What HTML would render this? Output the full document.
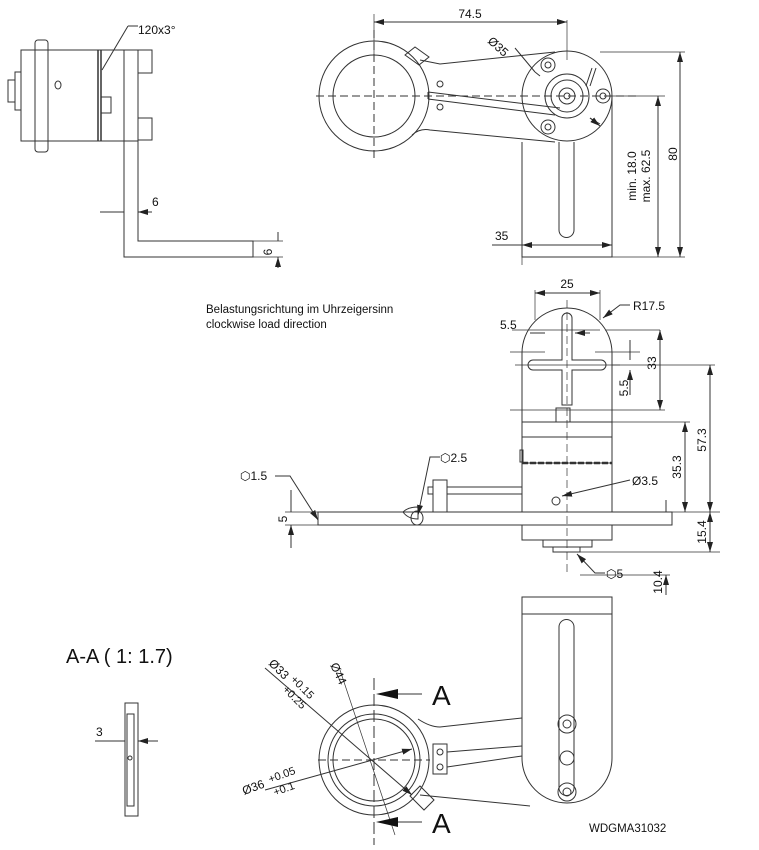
<!DOCTYPE html>
<html><head><meta charset="utf-8"><style>
html,body{margin:0;padding:0;background:#fff}
svg{display:block}
text{font-family:"Liberation Sans",sans-serif;fill:#111}
</style></head><body>
<svg width="759" height="850" viewBox="0 0 759 850" xmlns="http://www.w3.org/2000/svg">
<defs>
<marker id="a" viewBox="0 0 10 6" refX="10" refY="3" markerWidth="10" markerHeight="6" orient="auto-start-reverse" markerUnits="userSpaceOnUse"><path d="M0,0L10,3L0,6z" fill="#222"/></marker>
</defs>
<g fill="none" stroke="#333" stroke-width="1">
<!-- top-left side view -->
<rect x="21" y="50" width="103" height="91"/>
<rect x="35" y="40" width="13" height="112" rx="3"/>
<rect x="15" y="72" width="6" height="38"/>
<rect x="8" y="80" width="7" height="22"/>
<path d="M98,50V141M101,50V141" stroke-width="1.5"/>
<rect x="101" y="97" width="10" height="16"/>
<ellipse cx="58" cy="85" rx="3" ry="4"/>
<rect x="124" y="50" width="14" height="91"/>
<rect x="138" y="50" width="14" height="23"/>
<rect x="138" y="118" width="14" height="22"/>
<path d="M124,141V257H253V241H138V141"/>
<path d="M253,241V257"/>
<path d="M128,26L102,70" /><path d="M128,26H138"/>
<path d="M100,212H124M152,212H138" marker-end="url(#a)"/>
<path d="M278,232V241M278,268V257" marker-end="url(#a)"/>
<path d="M253,241H283M253,257H283" stroke-width=".7"/>

<!-- top-right view -->
<circle cx="374" cy="96" r="55"/>
<circle cx="374" cy="96" r="41"/>
<path d="M316,96H640" stroke-dasharray="8,4"/>
<path d="M374,30V160" stroke-dasharray="8,4"/>
<path d="M420,60L440,64L555,52M412,135Q420,128 430,130L555,142"/>
<path d="M405,55l10,-8l14,10l-10,8z"/>
<circle cx="567" cy="96" r="45"/>
<circle cx="567" cy="96" r="22"/>
<circle cx="567" cy="96" r="16"/>
<circle cx="567" cy="96" r="8"/>
<circle cx="567" cy="96" r="3"/>
<circle cx="548" cy="65" r="7"/><circle cx="548" cy="65" r="3"/>
<circle cx="548" cy="127" r="7"/><circle cx="548" cy="127" r="3"/>
<circle cx="603" cy="96" r="7"/><circle cx="603" cy="96" r="3"/>
<circle cx="440" cy="84" r="3"/><circle cx="440" cy="107" r="3"/>
<path d="M428,92L560,108M428,99L555,115M428,92V99"/>
<path d="M592,68l-6,18M596,68l-6,18"/>
<path d="M522,142V257H612V96"/>
<path d="M559,142V230a7.5,7.5 0 0 0 15,0V142"/>
<path d="M567,20V60" stroke-width=".7"/>
<path d="M374,14V60" stroke-width=".7"/>
<path d="M374,22H567" marker-start="url(#a)" marker-end="url(#a)"/>
<path d="M515,48L535,72M590,118L600,124" />
<path d="M535,72L540,76M590,118l10,8" marker-end="url(#a)"/>
<path d="M600,52H685M612,257H685M612,96H665M522,257V265" stroke-width=".7"/>
<path d="M680,52V257" marker-start="url(#a)" marker-end="url(#a)"/>
<path d="M658,96V257" marker-start="url(#a)" marker-end="url(#a)"/>
<path d="M492,245H612" marker-end="url(#a)"/><path d="M540,245H522" marker-end="url(#a)"/>

<!-- middle view -->
<path d="M522,422V353A45,45 0 0 1 612,353V422"/>
<path d="M562,318a5,5 0 0 1 10,0V360H601a5,5 0 0 1 0,10H572V405H562V370H533a5,5 0 0 1 0,-10H562z"/>
<path d="M567,300V575" stroke-dasharray="8,4" stroke-width=".7"/>
<path d="M515,365H620" stroke-width=".7"/>
<rect x="556" y="408" width="14" height="14"/>
<rect x="522" y="422" width="90" height="90"/>
<path d="M522,437H612M522,463H612"/>
<path d="M522,463H612" stroke-width="2.5" stroke-dasharray="6,2"/>
<rect x="520" y="450" width="3" height="12"/>
<rect x="318" y="512" width="354" height="13"/>
<path d="M522,525V540H612V525"/>
<rect x="543" y="540" width="49" height="7"/>
<rect x="553" y="547" width="27" height="5"/>
<rect x="433" y="480" width="14" height="32"/>
<rect x="428" y="487" width="5" height="7"/>
<path d="M447,487H522M447,494H522"/>
<path d="M403,512q5,-5 15,-5l0,12q-10,0 -15,-7z"/>
<ellipse cx="417" cy="518" rx="6" ry="7"/>
<circle cx="556" cy="501" r="4"/>
<path d="M535,290V320M600,290V320M512,330H600M605,330H660M510,352H545M595,352H640M510,410H665M612,365H715M612,422H690M612,512H720M580,552H720M580,575H670" stroke-width=".7"/>
<path d="M535,293H600" marker-start="url(#a)" marker-end="url(#a)"/>
<path d="M530,333H545M590,333H575" marker-end="url(#a)"/>
<path d="M630,340V360M630,395V370" marker-end="url(#a)"/>
<path d="M660,330V410" marker-start="url(#a)" marker-end="url(#a)"/>
<path d="M710,365V512" marker-start="url(#a)" marker-end="url(#a)"/>
<path d="M685,422V512" marker-start="url(#a)" marker-end="url(#a)"/>
<path d="M710,512V552" marker-start="url(#a)" marker-end="url(#a)"/>
<path d="M666,500V512M666,595V575" marker-end="url(#a)"/>
<path d="M630,305H620L603,318" marker-end="url(#a)"/>
<path d="M630,480L562,496" marker-end="url(#a)"/>
<path d="M275,476H290L318,520" marker-end="url(#a)"/>
<path d="M440,457H430L418,515" marker-end="url(#a)"/>
<path d="M605,573H595L577,554" marker-end="url(#a)"/>
<path d="M291,490V512M291,548V525" marker-end="url(#a)"/>
<path d="M285,512H318M285,525H318" stroke-width=".7"/>

<!-- bottom view -->
<path d="M522,597V758A45,45 0 0 0 612,758V597Z"/>
<path d="M522,614H612"/>
<path d="M559,627a7.5,7.5 0 0 1 15,0V788a7.5,7.5 0 0 1 -15,0z"/>
<circle cx="567" cy="724" r="9"/><circle cx="567" cy="724" r="4"/>
<circle cx="567" cy="758" r="7"/>
<circle cx="567" cy="792" r="9"/><circle cx="567" cy="792" r="4"/>
<path d="M418,719Q430,727 440,727L522,718M420,795L530,806"/>
<circle cx="374" cy="760" r="55"/>
<circle cx="374" cy="760" r="46"/>
<circle cx="374" cy="760" r="41"/>
<path d="M318,760H430" stroke-dasharray="8,4"/>
<path d="M374,678V845" stroke-dasharray="12,4"/>
<path d="M410,796l10,-10l14,14l-10,10z"/>
<rect x="433" y="744" width="14" height="30"/>
<circle cx="440" cy="752" r="3"/><circle cx="440" cy="767" r="3"/>
<path d="M447,752L522,746M447,767L522,756"/>
<path d="M395,694H422M395,822H422"/>
<path d="M265,668L412,795" marker-end="url(#a)"/>
<path d="M340,670L395,835" stroke-width=".7"/>
<path d="M265,790L412,749" marker-end="url(#a)"/>
<!-- section A-A -->
<rect x="125" y="703" width="13" height="113"/>
<rect x="127" y="714" width="7" height="92"/>
<circle cx="130" cy="758" r="2"/>
<path d="M95,741H125M158,741H138" marker-end="url(#a)"/>
</g>
<path d="M376,694L398,689V699Z M376,822L398,817V827Z" fill="#111"/>

<g font-size="12">
<text x="138" y="34">120x3°</text>
<text x="152" y="206">6</text>
<text x="272" y="252" transform="rotate(-90 272 252)" text-anchor="middle">6</text>
<text x="470" y="18" text-anchor="middle">74.5</text>
<text x="487" y="42" transform="rotate(42 487 42)">Ø35</text>
<text x="636" y="176" transform="rotate(-90 636 176)" text-anchor="middle">min. 18.0</text>
<text x="650" y="176" transform="rotate(-90 650 176)" text-anchor="middle">max. 62.5</text>
<text x="680" y="154" transform="rotate(-90 680 154)" text-anchor="middle" dy="-3">80</text>
<text x="495" y="240">35</text>
<text x="206" y="313" font-size="11.5">Belastungsrichtung im Uhrzeigersinn</text>
<text x="206" y="328" font-size="11.5">clockwise load direction</text>
<text x="567" y="288" text-anchor="middle">25</text>
<text x="633" y="310">R17.5</text>
<text x="500" y="329">5.5</text>
<text x="628" y="388" transform="rotate(-90 628 388)" text-anchor="middle">5.5</text>
<text x="656" y="363" transform="rotate(-90 656 363)" text-anchor="middle">33</text>
<text x="706" y="440" transform="rotate(-90 706 440)" text-anchor="middle">57.3</text>
<text x="681" y="467" transform="rotate(-90 681 467)" text-anchor="middle">35.3</text>
<text x="706" y="532" transform="rotate(-90 706 532)" text-anchor="middle">15.4</text>
<text x="662" y="582" transform="rotate(-90 662 582)" text-anchor="middle">10.4</text>
<text x="632" y="485">Ø3.5</text>
<text x="240" y="480">⬡1.5</text>
<text x="440" y="462">⬡2.5</text>
<text x="606" y="578">⬡5</text>
<text x="287" y="519" transform="rotate(-90 287 519)" text-anchor="middle">5</text>
<text x="66" y="663" font-size="20">A-A ( 1: 1.7)</text>
<text x="96" y="736">3</text>
<text x="432" y="705" font-size="28">A</text>
<text x="432" y="833" font-size="28">A</text>
<text x="268" y="664" transform="rotate(45 268 664)">Ø33</text>
<text x="290" y="680" transform="rotate(45 290 680)" font-size="11">+0.15</text>
<text x="282" y="690" transform="rotate(45 282 690)" font-size="11">+0.25</text>
<text x="330" y="665" transform="rotate(65 330 665)">Ø44</text>
<text x="244" y="795" transform="rotate(-20 244 795)">Ø36</text>
<text x="270" y="783" transform="rotate(-20 270 783)" font-size="11">+0.05</text>
<text x="275" y="796" transform="rotate(-20 275 796)" font-size="11">+0.1</text>
<text x="589" y="832" font-size="11.5">WDGMA31032</text>
</g>
</svg>
</body></html>
